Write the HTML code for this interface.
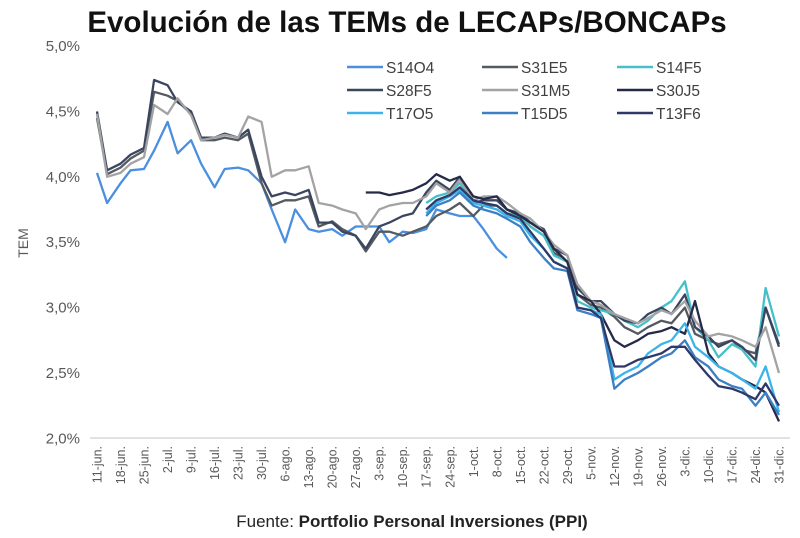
<!DOCTYPE html>
<html><head><meta charset="utf-8"><style>
html,body{margin:0;padding:0;background:#fff;}
body{width:800px;height:533px;overflow:hidden;font-family:"Liberation Sans",sans-serif;}
svg text{font-family:"Liberation Sans",sans-serif;}
</style></head><body>
<svg id="chart" width="800" height="533" viewBox="0 0 800 533" xmlns="http://www.w3.org/2000/svg">
<text x="407" y="32" text-anchor="middle" font-size="29.5" font-weight="bold" fill="#111">Evolución de las TEMs de LECAPs/BONCAPs</text>
<text transform="translate(28,243) rotate(-90)" text-anchor="middle" font-size="14" fill="#595959">TEM</text>
<line x1="90" y1="438" x2="790" y2="438" stroke="#d9d9d9" stroke-width="1.5"/>
<g id="yticks"></g>
<g id="xticks"></g>
<g id="series"></g>
<g id="legend"></g>
<text x="412" y="527" text-anchor="middle" font-size="17" fill="#222">Fuente: <tspan font-weight="bold">Portfolio Personal Inversiones (PPI)</tspan></text>
</svg>
<script>
const yTicks = [2.0, 2.5, 3.0, 3.5, 4.0, 4.5, 5.0];
const xLabels = ["11-jun.","18-jun.","25-jun.","2-jul.","9-jul.","16-jul.","23-jul.","30-jul.","6-ago.","13-ago.","20-ago.","27-ago.","3-sep.","10-sep.","17-sep.","24-sep.","1-oct.","8-oct.","15-oct.","22-oct.","29-oct.","5-nov.","12-nov.","19-nov.","26-nov.","3-dic.","10-dic.","17-dic.","24-dic.","31-dic."];
const days = [0,3,7,10,14,17,21,24,28,31,35,38,42,45,49,52,56,59,63,66,70,73,77,80,84,87,91,94,98,101,105,108,112,115,119,122,126,129,133,136,140,143,147,150,154,157,161,164,168,171,175,178,182,185,189,192,196,199,203];
const seriesNames = ["S14O4","S31E5","S14F5","S28F5","S31M5","S30J5","T17O5","T15D5","T13F6"];
const S14O4 = [4.03,3.80,3.95,4.05,4.06,4.20,4.42,4.18,4.28,4.10,3.92,4.06,4.07,4.05,3.95,3.75,3.50,3.75,3.60,3.58,3.60,3.55,3.62,3.62,3.62,3.50,3.58,3.57,3.60,3.75,3.72,3.70,3.70,3.60,3.45,3.38].concat(Array(23).fill(null));
const S31E5 = [4.45,4.02,4.07,4.14,4.20,4.65,4.62,4.58,4.48,4.28,4.28,4.30,4.28,4.33,3.95,3.78,3.82,3.82,3.85,3.62,3.66,3.60,3.55,3.43,3.58,3.58,3.55,3.58,3.62,3.70,3.75,3.80,3.70,3.78,3.78,3.72,3.70,3.62,3.55,3.42,3.35,3.10,3.02,3.00,2.93,2.85,2.80,2.85,2.90,2.88,3.00,2.80,2.75,2.72,2.75,2.68,2.65,3.00,2.72];
const S14F5 = Array(28).fill(null).concat([3.80,3.85,3.88,3.95,3.82,3.80,3.78,3.72,3.70,3.62,3.55,3.40,3.35,3.05,3.00,2.98,2.95,2.90,2.85,2.90,3.00,3.05,3.20,2.85,2.75,2.62,2.72,2.68,2.55,3.15,2.78]);
const S28F5 = [4.50,4.05,4.10,4.17,4.22,4.74,4.70,4.57,4.50,4.30,4.30,4.33,4.30,4.36,4.00,3.85,3.88,3.86,3.90,3.65,3.65,3.58,3.55,3.45,3.62,3.65,3.70,3.72,3.88,3.97,3.90,4.00,3.80,3.82,3.82,3.75,3.72,3.65,3.60,3.45,3.40,3.15,3.05,3.05,2.95,2.90,2.88,2.95,3.00,2.95,3.10,2.85,2.78,2.70,2.75,2.70,2.60,3.00,2.70];
const S31M5 = [4.48,4.00,4.03,4.10,4.15,4.55,4.48,4.60,4.47,4.28,4.30,4.32,4.30,4.46,4.42,4.00,4.05,4.05,4.08,3.80,3.78,3.75,3.72,3.60,3.75,3.78,3.80,3.80,3.85,3.95,3.88,3.98,3.82,3.85,3.85,3.80,3.72,3.68,3.58,3.48,3.40,3.18,3.05,3.02,2.95,2.92,2.88,2.92,2.98,2.95,3.05,2.90,2.78,2.80,2.78,2.75,2.70,2.85,2.50];
const S30J5 = Array(23).fill(null).concat([3.88,3.88,3.86,3.88,3.90,3.95,4.02,3.97,4.00,3.85,3.83,3.85,3.75,3.70,3.65,3.58,3.45,3.35,3.10,3.05,2.95,2.75,2.70,2.75,2.80,2.82,2.85,2.80,3.05,2.65,2.55,2.50,2.45,2.40,2.35,2.13]);
const T17O5 = Array(28).fill(null).concat([3.72,3.80,3.85,3.90,3.80,3.78,3.75,3.70,3.66,3.55,3.45,3.35,3.30,3.00,2.98,2.95,2.45,2.50,2.55,2.65,2.72,2.75,2.88,2.70,2.62,2.55,2.50,2.45,2.38,2.55,2.20]);
const T15D5 = Array(28).fill(null).concat([3.70,3.78,3.82,3.88,3.78,3.75,3.72,3.68,3.62,3.50,3.38,3.30,3.28,2.98,2.95,2.92,2.38,2.45,2.50,2.55,2.62,2.65,2.75,2.62,2.55,2.45,2.40,2.38,2.25,2.35,2.18]);
const T13F6 = Array(28).fill(null).concat([3.75,3.82,3.86,3.92,3.82,3.80,3.78,3.72,3.68,3.58,3.45,3.35,3.30,3.00,2.98,2.92,2.55,2.55,2.60,2.62,2.65,2.70,2.70,2.60,2.48,2.40,2.38,2.35,2.30,2.42,2.25]);
const seriesValues = [S14O4,S31E5,S14F5,S28F5,S31M5,S30J5,T17O5,T15D5,T13F6];
const colors = ["#4a8fe0","#555a60","#45c0c8","#3a4660","#a3a3a3","#262a48","#3ab4ea","#3b80c4","#2f3866"];

const NS = "http://www.w3.org/2000/svg";
function yScale(v){ return 46 + (5 - v) * 130.8; }
function xScale(d){ return 97 + d * (682 / 203); }

const yg = document.getElementById('yticks');
yTicks.forEach(function(t){
  const tx = document.createElementNS(NS,'text');
  
  
  tx.setAttribute('x', 80); tx.setAttribute('y', yScale(t) + 5);
  tx.setAttribute('text-anchor','end'); tx.setAttribute('font-size','15'); tx.setAttribute('fill','#595959');
  tx.textContent = t.toFixed(1).replace('.', ',') + '%';
  yg.appendChild(tx);
});

const xg = document.getElementById('xticks');
xLabels.forEach(function(l, i){
  const x = xScale(i * 7);
  const tx = document.createElementNS(NS,'text');
  
  
  tx.setAttribute('transform','translate(' + (x + 4.5) + ',446) rotate(-90)');
  tx.setAttribute('text-anchor','end'); tx.setAttribute('font-size','12.5'); tx.setAttribute('fill','#595959');
  tx.textContent = l;
  xg.appendChild(tx);
});

const sg = document.getElementById('series');
seriesValues.forEach(function(vals, si){
  let d = ''; let pen = false;
  vals.forEach(function(v, i){
    if (v === null) { pen = false; return; }
    d += (pen ? 'L' : 'M') + xScale(days[i]).toFixed(1) + ',' + yScale(v).toFixed(1);
    pen = true;
  });
  const p = document.createElementNS(NS,'path');
  
  
  p.setAttribute('d', d); p.setAttribute('fill','none');
  p.setAttribute('stroke', colors[si]); p.setAttribute('stroke-width','2.3');
  p.setAttribute('stroke-linejoin','round');
  sg.appendChild(p);
});

const lg = document.getElementById('legend');
const colX = [347, 482, 617];
const rowY = [67, 90, 113];
seriesNames.forEach(function(n, i){
  const c = i % 3, r = Math.floor(i / 3);
  const g = document.createElementNS(NS,'g');
  
  
  const ln = document.createElementNS(NS,'line');
  ln.setAttribute('x1', colX[c]); ln.setAttribute('x2', colX[c] + 36);
  ln.setAttribute('y1', rowY[r]); ln.setAttribute('y2', rowY[r]);
  ln.setAttribute('stroke', colors[i]); ln.setAttribute('stroke-width','2.5');
  const tx = document.createElementNS(NS,'text');
  tx.setAttribute('x', colX[c] + 39); tx.setAttribute('y', rowY[r] + 6);
  tx.setAttribute('font-size','15.5'); tx.setAttribute('fill','#404040');
  tx.textContent = n;
  g.appendChild(ln); g.appendChild(tx);
  lg.appendChild(g);
});
</script>
</body></html>
